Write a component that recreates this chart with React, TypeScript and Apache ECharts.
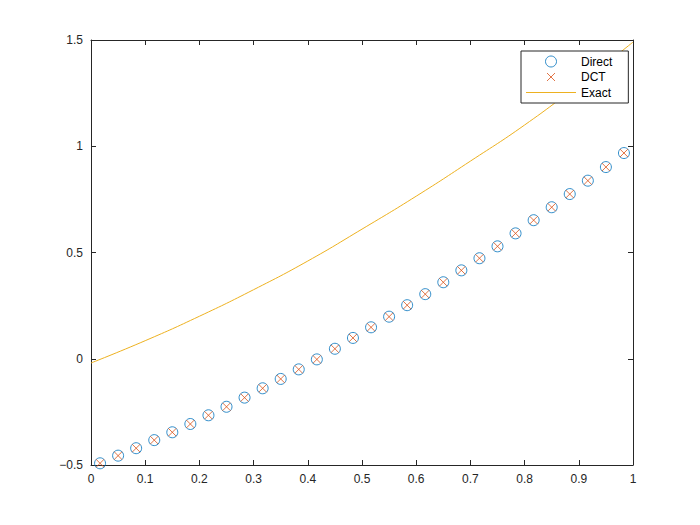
import React, { useEffect, useRef } from "react";
import * as echarts from "echarts";

const xValues = [0.0167, 0.05, 0.0833, 0.1167, 0.15, 0.1833, 0.2167, 0.25, 0.2833, 0.3167, 0.35, 0.3833, 0.4167, 0.45, 0.4833, 0.5167, 0.55, 0.5833, 0.6167, 0.65, 0.6833, 0.7167, 0.75, 0.7833, 0.8167, 0.85, 0.8833, 0.9167, 0.95, 0.9833];
const directValues = [-0.492, -0.456, -0.421, -0.383, -0.346, -0.307, -0.266, -0.226, -0.183, -0.139, -0.095, -0.05, -0.003, 0.047, 0.098, 0.148, 0.198, 0.252, 0.304, 0.36, 0.416, 0.473, 0.529, 0.59, 0.652, 0.713, 0.775, 0.838, 0.902, 0.968];
const dctValues = [-0.492, -0.456, -0.421, -0.383, -0.346, -0.307, -0.266, -0.226, -0.183, -0.139, -0.095, -0.05, -0.003, 0.047, 0.098, 0.148, 0.198, 0.252, 0.304, 0.36, 0.416, 0.473, 0.529, 0.59, 0.652, 0.713, 0.775, 0.838, 0.902, 0.968];
const exactX = [0, 0.1, 0.2, 0.3, 0.4, 0.5, 0.6, 0.7, 0.8, 0.9, 1.0];
const exactValues = [-0.02, 0.085, 0.2, 0.325, 0.46, 0.61, 0.765, 0.93, 1.1, 1.29, 1.49];
const seriesNames = ["Direct", "DCT", "Exact"];

const axisColor = "#262626";
const blue = "#0072BD";
const orange = "#D95319";
const yellow = "#EDB120";
const font = "'Liberation Sans', Arial, sans-serif";

export default function App() {
  const ref = useRef<HTMLDivElement>(null);
  useEffect(() => {
    if (!ref.current) return;
    const chart = echarts.init(ref.current, null, { renderer: "svg" });
    const baseAxis = {
      axisLine: { show: true, onZero: false, lineStyle: { color: axisColor, width: 1 } },
      axisTick: { show: true, inside: true, length: 5, lineStyle: { color: axisColor } },
      splitLine: { show: false },
    };
    chart.setOption({
      animation: false,
      backgroundColor: "#ffffff",
      textStyle: { fontFamily: font },
      grid: { left: 91, right: 67, top: 40, bottom: 60 },
      legend: {
        orient: "vertical",
        left: 521,
        top: 51,
        data: [
          {
            name: seriesNames[0],
            icon: "circle",
            itemStyle: { color: "rgba(0,0,0,0)", borderColor: blue, borderWidth: 1 },
          },
          {
            name: seriesNames[1],
            icon: "path://M0,0M11,11M1.5,1.5L9.5,9.5M9.5,1.5L1.5,9.5",
            itemStyle: { color: "rgba(0,0,0,0)", borderColor: orange, borderWidth: 1 },
          },
          {
            name: seriesNames[2],
            icon: "path://M0,0L50,0L50,1L0,1Z",
            itemStyle: { color: yellow, borderWidth: 0 },
          },
        ],
        itemWidth: 50,
        itemHeight: 11,
        itemGap: 3.5,
        padding: [4.5, 16, 4.5, 5],
        backgroundColor: "#ffffff",
        borderColor: axisColor,
        borderWidth: 1,
        borderRadius: 0,
        textStyle: { fontFamily: font, fontSize: 12, color: "#000000" },
      },
      xAxis: [
        {
          ...baseAxis,
          type: "value",
          min: 0,
          max: 1,
          interval: 0.1,
          position: "bottom",
          axisLabel: { color: axisColor, fontSize: 12, fontFamily: font, margin: 8 },
        },
        {
          ...baseAxis,
          type: "value",
          min: 0,
          max: 1,
          interval: 0.1,
          position: "top",
          axisLabel: { show: false },
        },
      ],
      yAxis: [
        {
          ...baseAxis,
          type: "value",
          min: -0.5,
          max: 1.5,
          interval: 0.5,
          position: "left",
          axisLabel: {
            color: axisColor,
            fontSize: 12,
            fontFamily: font,
            margin: 8,
            formatter: (v: number) => (v < 0 ? "\u2212" + Math.abs(v) : String(v)),
          },
        },
        {
          ...baseAxis,
          type: "value",
          min: -0.5,
          max: 1.5,
          interval: 0.5,
          position: "right",
          axisLabel: { show: false },
        },
      ],
      series: [
        {
          name: "Direct",
          type: "scatter",
          symbol: "circle",
          symbolSize: 11,
          itemStyle: { color: "rgba(0,0,0,0)", borderColor: blue, borderWidth: 1 },
          data: xValues.map((x, i) => [x, directValues[i]]),
          z: 3,
        },
        {
          name: "DCT",
          type: "scatter",
          symbol: "path://M0,0L10,10M10,0L0,10",
          symbolSize: 8,
          itemStyle: { color: "rgba(0,0,0,0)", borderColor: orange, borderWidth: 1 },
          data: xValues.map((x, i) => [x, dctValues[i]]),
          z: 4,
        },
        {
          name: "Exact",
          type: "line",
          smooth: true,
          symbol: "none",
          lineStyle: { color: yellow, width: 1 },
          itemStyle: { color: yellow },
          data: exactX.map((x, i) => [x, exactValues[i]]),
          z: 2,
        },
      ],
    });
    return () => chart.dispose();
  }, []);
  return (
    <div
      ref={ref}
      style={{ position: "fixed", left: 0, top: 0, width: 700, height: 525 }}
    />
  );
}
